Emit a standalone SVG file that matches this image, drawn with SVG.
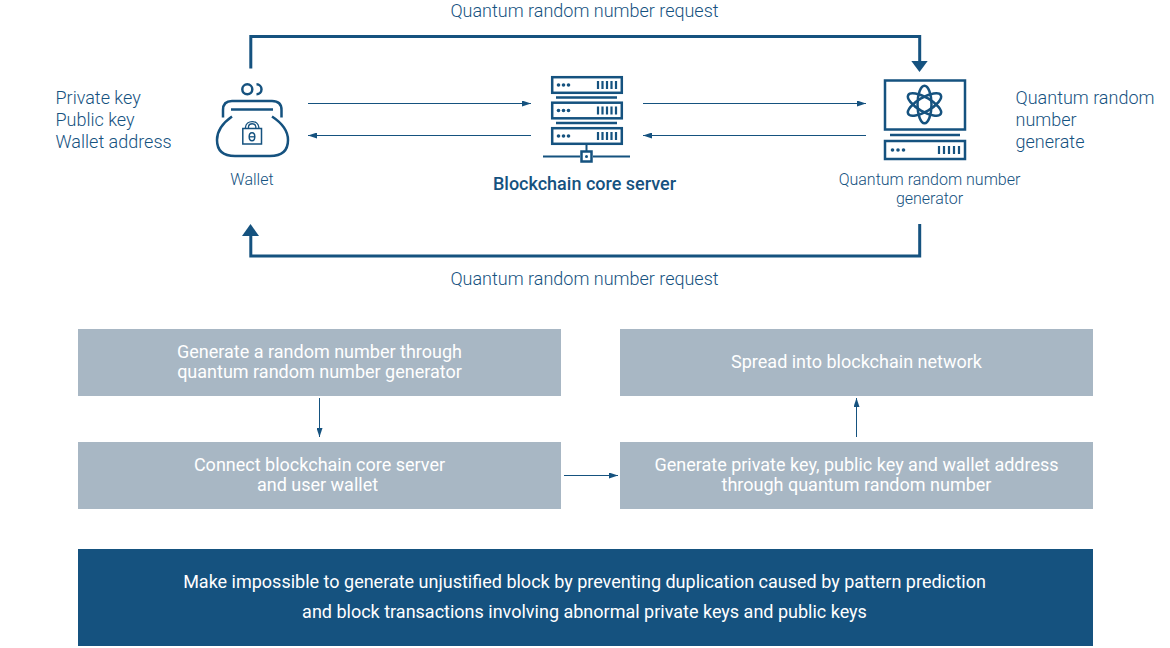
<svg xmlns="http://www.w3.org/2000/svg" width="1170" height="648" viewBox="0 0 1170 648">
<style>
text{font-family:Roboto,"Liberation Sans",sans-serif;font-weight:300}
.l{font-size:18px;fill:#15527f}
.s{font-size:16px;fill:#15527f}
.w{font-size:18px;fill:#fff;text-anchor:middle;font-weight:400}
.m{text-anchor:middle}
.box{fill:#a8b7c4}
.ic{fill:none;stroke:#15527f;stroke-width:2.5}
.thin{fill:none;stroke:#15527f;stroke-width:1}
.thick{fill:none;stroke:#15527f;stroke-width:3}
.d{fill:#15527f}
</style>
<defs>
<marker id="a" markerUnits="userSpaceOnUse" markerWidth="9" markerHeight="6" refX="9" refY="3" orient="auto"><path d="M0 0L9 3L0 6Z" fill="#15527f"/></marker>
<g id="rack"><rect x="1.2" y="1.2" width="69.6" height="15.6" class="ic"/><circle cx="7.500" cy="9" r="1.800" class="d"/><circle cx="12.500" cy="9" r="1.800" class="d"/><circle cx="17.500" cy="9" r="1.800" class="d"/><path d="M47 5v8M51.500 5v8M56 5v8M60.500 5v8M65 5v8" stroke="#15527f" stroke-width="2.200" fill="none"/></g>
</defs>
<g id="connectors">
<path class="thick" d="M250.800 68.500V36.500H919.700V63"/><path class="d" d="M911.300 61H927.700L919.500 72Z"/>
<path class="thick" d="M919.700 224V256H250.800V234"/><path class="d" d="M242 236H259L250.500 224Z"/>
<path class="thin" marker-end="url(#a)" d="M308 103.500H531"/>
<path class="thin" marker-end="url(#a)" d="M531 135.500H308"/>
<path class="thin" marker-end="url(#a)" d="M643 103.500H866"/>
<path class="thin" marker-end="url(#a)" d="M866 135.500H643"/>
<path class="thin" marker-end="url(#a)" d="M319.500 398V437"/>
<path class="thin" marker-end="url(#a)" d="M564 475.500H618"/>
<path class="thin" marker-end="url(#a)" d="M856.500 437V398"/>
</g>
<g id="top-labels">
<text class="l m" x="584.500" y="17">Quantum random number request</text>
<text class="l m" x="584.500" y="285">Quantum random number request</text>
<text class="l" x="55.500" y="104">Private key</text>
<text class="l" x="55.500" y="126">Public key</text>
<text class="l" x="55.500" y="148">Wallet address</text>
<text class="l" x="1015.500" y="104">Quantum random</text>
<text class="l" x="1015.500" y="126">number</text>
<text class="l" x="1015.500" y="148">generate</text>
</g>
<g id="wallet">
<circle cx="247.300" cy="89.300" r="5" class="ic"/>
<path class="ic" d="M256.500 84.300A5 5 0 0 1 256.500 94.300"/>
<path class="ic" d="M223 117.500V110Q223 101 232 101H272Q281.500 101 281.500 110V117.500"/>
<path class="ic" d="M231 109.500H273"/>
<path class="ic" d="M232 116.500Q217 127 217 140Q217 156 235 156H270Q288 156 288 140Q288 127 272 116.500"/>
<rect x="242.800" y="128.500" width="18.700" height="15.500" fill="none" stroke="#15527f" stroke-width="1.500"/>
<path d="M245.500 128.500V127A6.700 6.200 0 0 1 258.800 127V128.500M248.500 128.500V126.500A3.700 3.300 0 0 1 255.800 126.500V128.500" fill="none" stroke="#15527f" stroke-width="1.300"/>
<ellipse cx="252" cy="136.800" rx="2.800" ry="4" fill="none" stroke="#15527f" stroke-width="1.500"/>
<path d="M249.200 136.800H254.800" stroke="#15527f" stroke-width="1.300"/>
<text class="s m" x="252" y="185">Wallet</text>
</g>
<g id="blockchain-server">
<use href="#rack" x="551" y="76"/>
<use href="#rack" x="551" y="101.500"/>
<use href="#rack" x="551" y="127"/>
<path d="M556 97.500H617M556 123H617" stroke="#15527f" stroke-width="2.500"/>
<path d="M586.500 145V151M543 156.500H580M593 156.500H630" stroke="#15527f" stroke-width="2"/>
<rect x="581.500" y="151.500" width="10" height="10" fill="#fff" stroke="#15527f" stroke-width="2.500"/>
<circle cx="586.500" cy="156.500" r="1.500" class="d"/>
<text x="584.500" y="190" text-anchor="middle" style="font-weight:500;font-size:18px;fill:#15527f">Blockchain core server</text>
</g>
<g id="qrng">
<rect x="885" y="80.500" width="80" height="49" class="ic"/>
<g fill="none" stroke="#15527f" stroke-width="2.500">
<ellipse cx="924.500" cy="104.500" rx="7" ry="18.800"/>
<ellipse cx="924.500" cy="104.500" rx="7" ry="18.800" transform="rotate(60 924.500 104.500)"/>
<ellipse cx="924.500" cy="104.500" rx="7" ry="18.800" transform="rotate(-60 924.500 104.500)"/>
</g>
<path d="M890 135H960" stroke="#15527f" stroke-width="2.500"/>
<rect x="885" y="141" width="80" height="18" class="ic"/>
<circle cx="892.500" cy="150" r="1.800" class="d"/><circle cx="898" cy="150" r="1.800" class="d"/><circle cx="903.500" cy="150" r="1.800" class="d"/>
<path d="M939 146v8M944 146v8M949 146v8M954 146v8M959 146v8" stroke="#15527f" stroke-width="2.200"/>
<text class="s m" x="929.500" y="185">Quantum random number</text>
<text class="s m" x="929.500" y="204">generator</text>
</g>
<g id="step-generate"><rect class="box" x="78" y="329" width="483" height="67"/>
<text class="w" x="319.500" y="358">Generate a random number through</text><text class="w" x="319.500" y="378">quantum random number generator</text></g>
<g id="step-spread"><rect class="box" x="620" y="329" width="473" height="67"/>
<text class="w" x="856.500" y="368">Spread into blockchain network</text></g>
<g id="step-connect"><rect class="box" x="78" y="442" width="483" height="67"/>
<text class="w" x="319.500" y="471">Connect blockchain core server</text><text class="w" x="317.500" y="491">and user wallet</text></g>
<g id="step-keys"><rect class="box" x="620" y="442" width="473" height="67"/>
<text class="w" x="856.500" y="471">Generate private key, public key and wallet address</text><text class="w" x="856.500" y="491">through quantum random number</text></g>
<g id="result"><rect x="78" y="549" width="1015" height="97" fill="#15527f"/>
<text class="w" x="584.500" y="588">Make impossible to generate unjustified block by preventing duplication caused by pattern prediction</text>
<text class="w" x="584.500" y="618">and block transactions involving abnormal private keys and public keys</text></g>
</svg>
